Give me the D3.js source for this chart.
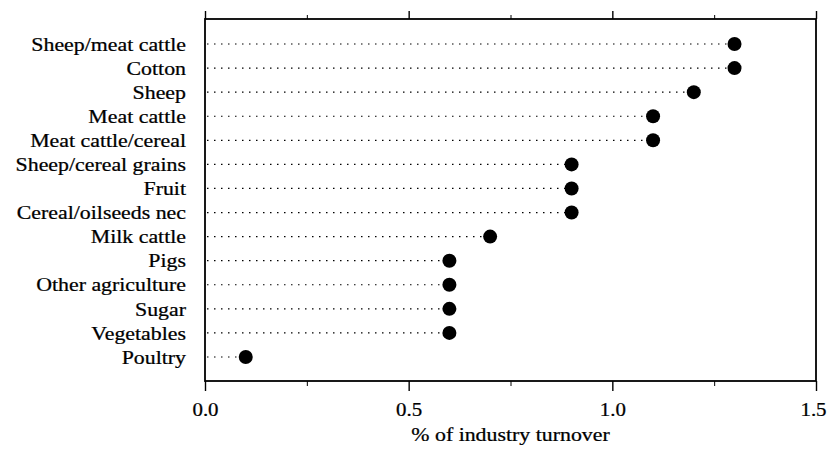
<!DOCTYPE html>
<html>
<head>
<meta charset="utf-8">
<script src="https://cdn.jsdelivr.net/npm/d3@7"></script>
<style>
  body { margin: 0; background: #fff; }
  svg { display: block; }
</style>
</head>
<body>
<div id="chart"></div>
<script>
// Data
const categories = [
  'Sheep/meat cattle', 'Cotton', 'Sheep', 'Meat cattle', 'Meat cattle/cereal',
  'Sheep/cereal grains', 'Fruit', 'Cereal/oilseeds nec', 'Milk cattle', 'Pigs',
  'Other agriculture', 'Sugar', 'Vegetables', 'Poultry'
]
const shares = [1.3, 1.3, 1.2, 1.1, 1.1, 0.9, 0.9, 0.9, 0.7, 0.6, 0.6, 0.6, 0.6, 0.1]
const majorTicks = [0, 0.5, 1.0, 1.5]
const minorTicks = [0.25, 0.75, 1.25]
const xTitle = '% of industry turnover'

const FONT = "'Liberation Serif', 'Times New Roman', 'DejaVu Serif', serif"
const FSIZE = 19
const STRETCH = 'scale(1.15,1)' // scanned type is a bit wide

const W = 828, H = 450
const margin = { top: 19, right: 12, bottom: 69, left: 205 }
const width = W - margin.left - margin.right
const height = H - margin.top - margin.bottom

const svg = d3.select('#chart').append('svg')
  .attr('width', W)
  .attr('height', H)

const g = svg.append('g')
  .attr('transform', `translate(${margin.left},${margin.top})`)

const x = d3.scaleLinear().domain([0, 1.5]).range([0, width])
const y = d3.scalePoint().domain(categories).range([25, height - 24])

// frame
g.append('rect')
  .attr('width', width).attr('height', height)
  .attr('fill', 'none').attr('stroke', '#000').attr('stroke-width', 1.8)

// bottom axis
const xAxisBottom = g.append('g')
  .attr('transform', `translate(0,${height})`)
  .call(d3.axisBottom(x).tickValues(majorTicks).tickFormat(d3.format('.1f')).tickSize(10).tickPadding(12))
xAxisBottom.select('.domain').remove()
xAxisBottom.selectAll('line').attr('stroke-width', 1.4)
xAxisBottom.attr('font-family', FONT).attr('font-size', FSIZE)
xAxisBottom.selectAll('text')
  .attr('stroke', '#000').attr('stroke-width', 0.25)
  .attr('transform', (d, i) => (d === 1.5 ? 'translate(-3,0) ' : '') + 'scale(1.1,1)')

g.append('g')
  .attr('transform', `translate(0,${height})`)
  .call(d3.axisBottom(x).tickValues(minorTicks).tickFormat('').tickSize(5))
  .call(a => a.select('.domain').remove())

// top axis
const xAxisTop = g.append('g')
  .call(d3.axisTop(x).tickValues(majorTicks).tickFormat('').tickSize(8))
xAxisTop.select('.domain').remove()
xAxisTop.selectAll('line').attr('stroke-width', 1.4)
g.append('g')
  .call(d3.axisTop(x).tickValues(minorTicks).tickFormat('').tickSize(4))
  .call(a => a.select('.domain').remove())

// y labels
g.append('g')
  .attr('font-family', FONT)
  .attr('font-size', FSIZE)
  .attr('stroke', '#000')
  .attr('stroke-width', 0.25)
  .selectAll('g')
  .data(categories)
  .join('g')
    .attr('transform', d => `translate(-19,${y(d)}) ${STRETCH}`)
  .append('text')
    .attr('dy', '0.35em')
    .attr('text-anchor', 'end')
    .text(d => d)

// dotted leaders
g.append('g').selectAll('line')
  .data(categories)
  .join('line')
    .attr('x1', 2)
    .attr('x2', (d, i) => x(shares[i]))
    .attr('y1', d => y(d))
    .attr('y2', d => y(d))
    .attr('stroke', '#000')
    .attr('stroke-width', 1.2)
    .attr('stroke-dasharray', '1.5,5.5')

// dots
g.append('g').selectAll('circle')
  .data(categories)
  .join('circle')
    .attr('cx', (d, i) => x(shares[i]))
    .attr('cy', d => y(d))
    .attr('r', 7)
    .attr('fill', '#000')

// x title
svg.append('g')
  .attr('transform', `translate(${margin.left + width / 2},441) ${STRETCH}`)
  .append('text')
  .attr('font-family', FONT)
  .attr('font-size', FSIZE)
  .attr('stroke', '#000')
  .attr('stroke-width', 0.25)
  .attr('text-anchor', 'middle')
  .text(xTitle)
</script>
</body>
</html>
